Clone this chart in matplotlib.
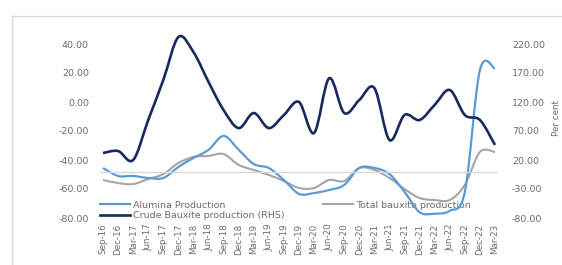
import numpy as np
import matplotlib
matplotlib.use('Agg')
import matplotlib.pyplot as plt
from matplotlib.path import Path
from matplotlib.patches import PathPatch
from matplotlib.lines import Line2D

# Quarterly growth figures, Sep-16 .. Mar-23
quarters = ['Sep-16', 'Dec-16', 'Mar-17', 'Jun-17', 'Sep-17', 'Dec-17', 'Mar-18',
            'Jun-18', 'Sep-18', 'Dec-18', 'Mar-19', 'Jun-19', 'Sep-19', 'Dec-19',
            'Mar-20', 'Jun-20', 'Sep-20', 'Dec-20', 'Mar-21', 'Jun-21', 'Sep-21',
            'Dec-21', 'Mar-22', 'Jun-22', 'Sep-22', 'Dec-22', 'Mar-23']

alumina = [-45.5, -51, -51, -52.4, -52.4, -44.8, -38.6, -33, -23.4, -33, -42.8,
           -45.5, -53.8, -63.4, -62.8, -60.7, -57.2, -45.5, -45.5, -49.7, -62,
           -76, -77, -75, -62, 22, 23]

total_bauxite = [-53.8, -55.9, -56.6, -53.1, -49.7, -42.1, -37.9, -37.2, -35.9,
                 -43.4, -46.9, -50.3, -54.5, -59.3, -59.3, -53.8, -54.5, -45.5,
                 -46.9, -52.4, -60, -66.2, -67.6, -67.6, -57.2, -34.5, -34.5]

# right-hand scale
crude_bauxite = [32, 35.5, 20, 89, 158, 232, 206, 154.5, 106, 75, 101, 75, 97.6,
                 120, 66.6, 161, 101, 123.5, 144, 54.5, 97.6, 89, 115, 140.7,
                 97.6, 89, 46]

left_ticks = [-80, -60, -40, -20, 0, 20, 40]
right_ticks = [-80, -30, 20, 70, 120, 170, 220]

navy = '#172a5c'
blue = '#5b9bd5'
grey = '#a5a5a5'
txt = '#6b6b6b'


def smooth_path(vals):
    # Excel style smoothed line: cubic bezier through each point
    pts = np.column_stack([np.arange(len(vals)), vals]).astype(float)
    verts = [pts[0]]
    codes = [Path.MOVETO]
    n = len(pts)
    for k in range(n - 1):
        p0 = pts[max(k - 1, 0)]
        p1 = pts[k]
        p2 = pts[k + 1]
        p3 = pts[min(k + 2, n - 1)]
        verts += [p1 + (p2 - p0) / 6, p2 - (p3 - p1) / 6, p2]
        codes += [Path.CURVE4] * 3
    return Path(verts, codes)


plt.rcParams['font.family'] = 'DejaVu Sans'
fig = plt.figure(figsize=(5.62, 2.65), dpi=100)
ax = fig.add_axes([100 / 562, 47 / 265, 398 / 562, 188.5 / 265])
ax2 = ax.twinx()
ax.set_zorder(1)
ax2.set_zorder(2)
ax.patch.set_visible(False)
ax2.patch.set_visible(False)

ax.set_xlim(-0.2, len(quarters) - 0.8)
ax.set_ylim(-80, 50)
ax2.set_ylim(-80, 245)

ax2.axhline(0, color='#d9d9d9', lw=1, zorder=0)

ax.add_patch(PathPatch(smooth_path(total_bauxite), fill=False, ec=grey, lw=1.5, zorder=2))
ax.add_patch(PathPatch(smooth_path(alumina), fill=False, ec=blue, lw=1.6, zorder=3))
ax2.add_patch(PathPatch(smooth_path(crude_bauxite), fill=False, ec=navy, lw=1.9, zorder=3))

ax.set_xticks(range(len(quarters)))
ax.set_xticklabels(quarters, rotation=90, fontsize=6.3, color=txt)
ax.set_yticks(left_ticks)
ax.set_yticklabels(['%.2f' % v for v in left_ticks], fontsize=6.8, color=txt)
ax2.set_yticks(right_ticks)
ax2.set_yticklabels(['%.2f' % v for v in right_ticks], fontsize=6.8, color=txt)
for a in (ax, ax2):
    a.tick_params(length=0)
    for s in a.spines.values():
        s.set_visible(False)
ax.tick_params(axis='y', pad=8)
ax.tick_params(axis='x', pad=4)
ax2.tick_params(axis='y', pad=10)
ax2.set_ylabel('Per cent', fontsize=6.3, color=txt)
ax2.yaxis.set_label_coords(1.135, 0.53)

# legend: two blocks like the original
h_al = Line2D([], [], color=blue, lw=1.6)
h_cr = Line2D([], [], color=navy, lw=1.9)
h_tb = Line2D([], [], color=grey, lw=1.5)
leg1 = ax.legend([h_al, h_cr], ['Alumina Production', 'Crude Bauxite production (RHS)'],
                 loc='upper left', bbox_to_anchor=(-5 / 398, 22 / 188.5), frameon=False,
                 fontsize=6.8, labelcolor=txt, handlelength=3.2, handletextpad=0.3,
                 labelspacing=0.15, borderpad=0)
leg1.set_zorder(0)
ax.add_artist(leg1)
leg2 = ax.legend([h_tb], ['Total bauxite production'],
                 loc='upper left', bbox_to_anchor=(218 / 398, 22 / 188.5), frameon=False,
                 fontsize=6.8, labelcolor=txt, handlelength=3.2, handletextpad=0.3,
                 borderpad=0)
leg2.set_zorder(0)

# light frame round the figure
fig.add_artist(Line2D([12 / 562, 1], [1 - 16 / 265, 1 - 16 / 265], color='#d9d9d9', lw=1))
fig.add_artist(Line2D([12 / 562, 12 / 562], [0, 1 - 16 / 265], color='#d9d9d9', lw=1))

fig.savefig('out.png', dpi=100)
